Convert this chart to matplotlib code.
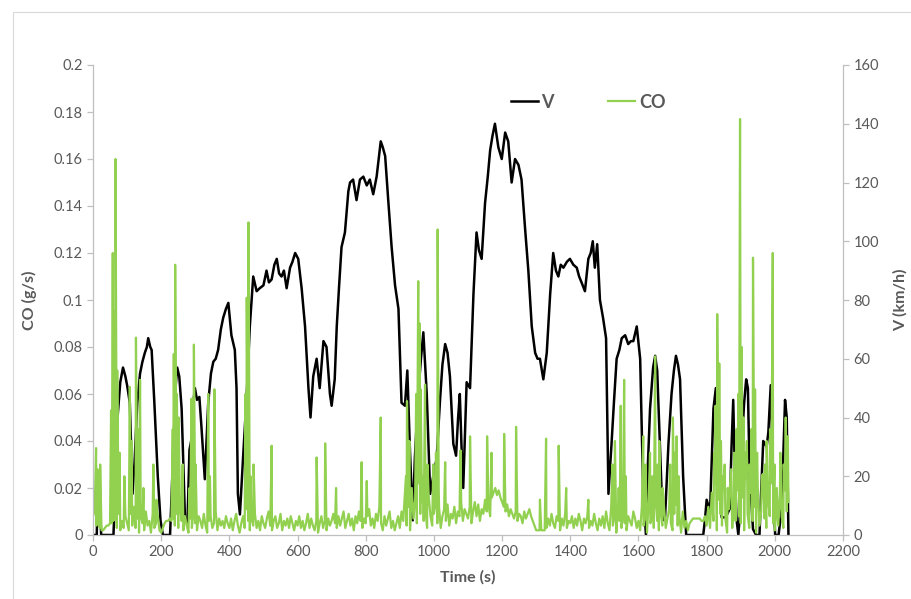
import numpy as np
import matplotlib
matplotlib.use("Agg")
import matplotlib.pyplot as plt
from matplotlib.patches import Rectangle

# speed trace (time in s, V in km/h)
v_time = [0, 11, 15, 19, 24, 30, 40, 60, 65, 72, 80, 88, 95, 100, 108, 116, 122, 130, 138, 145,
          152, 158, 162, 168, 172, 180, 190, 198, 205, 215, 226, 236, 242, 247, 253, 260, 270, 277, 283, 288,
          294, 299, 305, 312, 318, 328, 338, 346, 353, 360, 367, 375, 382, 390, 397, 406, 416, 421, 425, 431,
          440, 451, 460, 470, 480, 489, 500, 509, 516, 524, 532, 539, 546, 553, 560, 568, 578, 585, 593, 602,
          612, 622, 632, 638, 646, 656, 665, 676, 685, 695, 700, 709, 715, 722, 729, 739, 749, 754, 763, 773,
          783, 793, 803, 812, 822, 832, 844, 850, 857, 866, 876, 886, 896, 905, 915, 922, 930, 938, 944, 954,
          962, 969, 979, 989, 998, 1008, 1018, 1025, 1033, 1040, 1047, 1057, 1065, 1071, 1076, 1081, 1086, 1096, 1106, 1116,
          1125, 1132, 1140, 1150, 1158, 1165, 1172, 1179, 1189, 1199, 1209, 1218, 1228, 1238, 1248, 1257, 1267, 1277, 1287, 1297,
          1304, 1311, 1321, 1331, 1341, 1350, 1358, 1365, 1372, 1380, 1390, 1399, 1409, 1419, 1426, 1433, 1443, 1453, 1460, 1466,
          1472, 1479, 1487, 1496, 1505, 1512, 1521, 1528, 1536, 1544, 1551, 1561, 1570, 1578, 1585, 1595, 1605, 1614, 1622, 1628,
          1634, 1643, 1649, 1655, 1663, 1671, 1678, 1688, 1697, 1704, 1710, 1716, 1722, 1731, 1740, 1790, 1795, 1800, 1810, 1820,
          1827, 1834, 1844, 1856, 1868, 1873, 1878, 1883, 1888, 1893, 1898, 1903, 1910, 1916, 1921, 1926, 1936, 1945, 1955, 1960,
          1966, 1976, 1981, 1988, 1996, 2001, 2011, 2020, 2030, 2035, 2040]
v_kmh = [0, 0, 21, 14, 0, 0, 0, 0, 15, 40, 52, 57, 54, 51, 45, 14, 25, 45, 55, 59,
         62, 64, 67, 64, 63, 45, 20, 5, 0, 0, 0, 30, 50, 57, 54, 43, 5, 4, 29, 32,
         45, 50, 46, 47, 37, 19, 45, 55, 59, 60, 63, 70, 74, 77, 79, 68, 63, 50, 14, 7,
         26, 48, 71, 88, 83, 84, 85, 90, 86, 87, 92, 94, 89, 88, 90, 84, 91, 93, 96, 94,
         84, 71, 50, 40, 54, 60, 50, 66, 64, 48, 44, 53, 71, 85, 98, 103, 117, 120, 121, 114,
         121, 122, 119, 121, 116, 122, 134, 132, 129, 114, 98, 85, 77, 45, 44, 56, 28, 5, 26, 48,
         60, 69, 48, 14, 20, 26, 46, 58, 65, 62, 54, 31, 27, 40, 48, 30, 16, 52, 50, 82,
         103, 97, 94, 113, 122, 131, 136, 140, 132, 128, 137, 134, 120, 128, 126, 121, 105, 90, 71, 62,
         60, 60, 53, 62, 82, 96, 90, 88, 92, 91, 93, 94, 92, 91, 88, 86, 83, 94, 96, 100,
         91, 99, 80, 74, 67, 14, 31, 45, 60, 63, 67, 68, 65, 66, 66, 71, 60, 14, 0, 25,
         43, 57, 61, 56, 31, 5, 6, 31, 48, 56, 61, 58, 53, 20, 0, 0, 5, 12, 8, 43,
         50, 26, 6, 6, 9, 30, 46, 20, 5, 0, 8, 31, 45, 53, 50, 21, 2, 0, 0, 15,
         32, 30, 35, 51, 14, 0, 0, 9, 46, 40, 0]

# CO background, every 5 s from 0 to 2040 s, in mg/s
co_base_mg = [
    8, 10, 4, 9, 3, 2, 2, 3, 4, 4, 5, 5, 6, 7, 3, 9, 2, 6, 3, 8,
    5, 2, 9, 4, 12, 3, 7, 1, 8, 5, 2, 10, 4, 6, 1, 9, 3, 5, 8, 2,
    1, 3, 5, 6, 6, 7, 6, 7, 4, 9, 3, 12, 6, 2, 8, 4, 1, 7, 3, 10,
    5, 2, 8, 6, 3, 9, 4, 1, 6, 8, 3, 5, 10, 2, 7, 4, 6, 3, 8, 5,
    3, 7, 2, 6, 9, 4, 1, 5, 8, 3, 11, 6, 2, 7, 4, 9, 3, 6, 2, 8,
    5, 3, 7, 10, 4, 2, 6, 8, 3, 5, 9, 2, 6, 4, 7, 3, 8, 5, 2, 6,
    4, 8, 3, 6, 2, 5, 9, 3, 7, 4, 2, 6, 1, 5, 8, 3, 6, 2, 7, 4,
    6, 9, 5, 3, 8, 4, 7, 10, 3, 6, 9, 4, 7, 2, 8, 5, 10, 6, 3, 7,
    5, 8, 11, 4, 7, 3, 9, 6, 12, 5, 2, 8, 4, 7, 10, 3, 6, 2, 5, 8,
    3, 10, 6, 18, 4, 12, 2, 20, 7, 15, 5, 22, 9, 14, 6, 11, 3, 16, 8, 4,
    9, 14, 5, 12, 3, 8, 11, 6, 13, 4, 9, 7, 12, 5, 10, 8, 14, 6, 11, 9,
    7, 12, 5, 10, 14, 8, 13, 6, 11, 9, 15, 10, 13, 8, 16, 18, 20, 17, 19, 16,
    14, 12, 10, 13, 8, 11, 9, 7, 10, 6, 9, 8, 5, 10, 7, 9, 11, 8, 6, 4,
    2, 2, 2, 2, 2, 2, 3, 7, 4, 9, 5, 3, 8, 6, 2, 7, 4, 9, 3, 6,
    5, 8, 3, 7, 4, 9, 6, 2, 7, 5, 8, 3, 6, 4, 9, 5, 2, 7, 4, 8,
    3, 10, 5, 2, 12, 4, 8, 1, 11, 6, 3, 9, 5, 2, 8, 6, 4, 10, 7, 3,
    6, 2, 12, 4, 9, 1, 14, 5, 8, 3, 16, 6, 2, 10, 4, 12, 3, 7, 11, 5,
    2, 9, 13, 4, 8, 1, 10, 3, 6, 2, 5, 6, 7, 7, 7, 7, 7, 6, 6, 8,
    4, 12, 3, 18, 6, 22, 2, 15, 9, 4, 20, 7, 1, 11, 25, 3, 14, 6, 19, 8,
    5, 16, 2, 24, 9, 3, 18, 6, 12, 1, 20, 4, 10, 26, 7, 3, 15, 8, 22, 5,
    2, 11, 4, 17, 8, 3, 19, 10, 14]

# CO peaks (time in s, g/s)
co_peak_time = [9, 13, 21, 53, 58, 62, 66, 71, 78, 92, 108, 113, 126, 133, 138, 148, 177, 186, 234, 237, 241,
                246, 251, 263, 283, 289, 296, 301, 338, 343, 356, 447, 451, 456, 462, 471, 524, 656, 681, 713, 788,
                803, 844, 918, 921, 928, 948, 954, 958, 961, 968, 974, 981, 998, 1006, 1011, 1014, 1033, 1078, 1106, 1156,
                1169, 1206, 1241, 1311, 1329, 1366, 1388, 1453, 1524, 1531, 1542, 1548, 1558, 1563, 1614, 1621, 1634, 1641, 1649, 1656,
                1661, 1671, 1693, 1701, 1706, 1712, 1718, 1822, 1826, 1831, 1837, 1842, 1848, 1853, 1862, 1872, 1881, 1888, 1893, 1898, 1903, 1908, 1913, 1918, 1926,
                1931, 1936, 1942, 1948, 1962, 1971, 1976, 1986, 1994, 1999, 2006, 2016, 2026, 2032, 2038]
co_peak_gs = [0.037, 0.028, 0.030, 0.053, 0.120, 0.095, 0.160, 0.070, 0.035, 0.025, 0.063, 0.040, 0.084, 0.045, 0.066, 0.020, 0.030, 0.015, 0.045, 0.077, 0.115,
              0.060, 0.050, 0.030, 0.020, 0.058, 0.081, 0.030, 0.060, 0.025, 0.062, 0.060, 0.101, 0.133, 0.025, 0.030, 0.038, 0.033, 0.039, 0.020, 0.031,
              0.023, 0.050, 0.025, 0.057, 0.040, 0.060, 0.108, 0.090, 0.062, 0.025, 0.064, 0.030, 0.030, 0.035, 0.130, 0.020, 0.031, 0.036, 0.042, 0.042,
              0.035, 0.043, 0.046, 0.015, 0.041, 0.038, 0.020, 0.015, 0.030, 0.040, 0.020, 0.055, 0.066, 0.025, 0.042, 0.030, 0.035, 0.025, 0.076, 0.030,
              0.040, 0.020, 0.030, 0.050, 0.035, 0.042, 0.025, 0.035, 0.055, 0.094, 0.073, 0.040, 0.025, 0.030, 0.020, 0.028, 0.035, 0.045, 0.060, 0.177, 0.080, 0.050, 0.035, 0.040, 0.030,
              0.045, 0.118, 0.062, 0.035, 0.025, 0.030, 0.040, 0.045, 0.120, 0.030, 0.020, 0.035, 0.030, 0.050, 0.042]

co_base_time = np.arange(len(co_base_mg)) * 5
co_t = np.concatenate([co_base_time, co_peak_time])
co_v = np.concatenate([np.array(co_base_mg) / 1000.0, co_peak_gs])
order = np.argsort(co_t, kind="stable")
co_t = co_t[order]
co_v = co_v[order]

plt.rcParams['font.family'] = ['Lato', 'DejaVu Sans']
grey = '#595959'
axis_grey = '#bfbfbf'

fig = plt.figure(figsize=(9.11, 5.99), dpi=100)
ax = fig.add_axes([93 / 911, 1 - 535 / 599, 750 / 911, 470 / 599])
ax2 = ax.twinx()
# CO drawn over the speed trace
ax.set_zorder(ax2.get_zorder() + 1)
ax.patch.set_visible(False)

# light chart border like the spreadsheet chart area
fig.patches.append(Rectangle((13 / 911, -0.1), 1.2, 1 - 12 / 599 + 0.1, transform=fig.transFigure,
                             fill=False, edgecolor='#d9d9d9', linewidth=0.8))

lv, = ax2.plot(v_time, v_kmh, color='black', lw=1.8, label='V')
lco, = ax.plot(co_t, co_v, color='#92d050', lw=1.6, label='CO')

ax.set_xlim(0, 2200)
ax.set_ylim(0, 0.2)
ax2.set_ylim(0, 160)
ax.set_xticks(np.arange(0, 2201, 200))
ax.set_yticks(np.arange(0, 0.201, 0.02))
ax.set_yticklabels(['0', '0.02', '0.04', '0.06', '0.08', '0.1', '0.12', '0.14', '0.16', '0.18', '0.2'])
ax2.set_yticks(np.arange(0, 161, 20))

for a in (ax, ax2):
    a.spines['top'].set_visible(False)
    for s in ('left', 'right', 'bottom'):
        a.spines[s].set_color(axis_grey)
        a.spines[s].set_linewidth(0.9)
    a.tick_params(colors=axis_grey, labelcolor=grey, labelsize=10.5, length=4, width=0.9)
ax.spines['right'].set_visible(False)
ax2.spines['left'].set_visible(False)
ax2.spines['bottom'].set_visible(False)

ax.set_xlabel('Time (s)', color=grey, fontsize=11.5, fontweight='bold', labelpad=8)
ax.set_ylabel('CO (g/s)', color=grey, fontsize=11.5, fontweight='bold', labelpad=12)
ax2.set_ylabel('V (km/h)', color=grey, fontsize=11.5, fontweight='bold', labelpad=10)

leg = ax.legend(handles=[lv, lco], loc='center', bbox_to_anchor=(0.66, 0.921), ncol=2,
                frameon=False, handlelength=1.5, handletextpad=0.2, columnspacing=3.0,
                prop={'weight': 'bold', 'size': 13})
for t in leg.get_texts():
    t.set_color(grey)

fig.savefig('out.png', dpi=100)
